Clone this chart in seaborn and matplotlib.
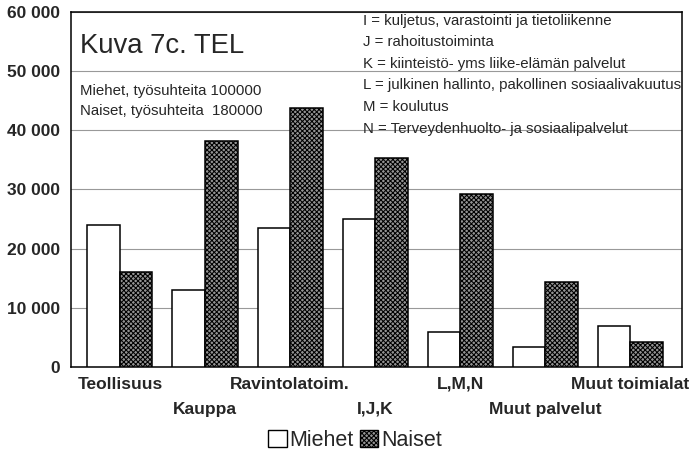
import pandas as pd
import seaborn as sns
import matplotlib.pyplot as plt
from matplotlib.patches import Patch

# data
toimialat = ['Teollisuus', 'Kauppa', 'Ravintolatoim.', 'I,J,K', 'L,M,N',
             'Muut palvelut', 'Muut toimialat']
miehet = [24000, 13000, 23500, 25000, 5900, 3300, 6900]
naiset = [16000, 38200, 43700, 35400, 29300, 14400, 4200]
y_ticks = [0, 10000, 20000, 30000, 40000, 50000, 60000]
selitteet = ['I = kuljetus, varastointi ja tietoliikenne',
             'J = rahoitustoiminta',
             'K = kiinteistö- yms liike-elämän palvelut',
             'L = julkinen hallinto, pakollinen sosiaalivakuutus',
             'M = koulutus',
             'N = Terveydenhuolto- ja sosiaalipalvelut']

df = pd.DataFrame({
    'Toimiala': toimialat * 2,
    'Sukupuoli': ['Miehet'] * len(toimialat) + ['Naiset'] * len(toimialat),
    'Lkm': miehet + naiset,
})

sns.set_style('white')
plt.rcParams['font.family'] = ['Liberation Sans', 'DejaVu Sans']
plt.rcParams['hatch.linewidth'] = 0.75

fig = plt.figure(figsize=(6.92, 4.54), dpi=100)
ax = fig.add_axes([71 / 692, 1 - 367 / 454, 611 / 692, 355 / 454])

sns.barplot(data=df, x='Toimiala', y='Lkm', hue='Sukupuoli',
            palette={'Miehet': 'white', 'Naiset': '#949494'},
            width=0.765, gap=0, edgecolor='black', linewidth=1.1,
            legend=False, ax=ax, zorder=3)
for bar in ax.containers[1]:
    bar.set_hatch('xxxxxxx')

ax.set_ylim(0, 60000)
ax.set_xlim(-0.576, len(toimialat) - 1 + 0.61)
ax.set_yticks(y_ticks)
ax.set_yticklabels([f'{v:,}'.replace(',', ' ') for v in y_ticks],
                   fontweight='bold', fontsize=12.5)
ax.set_yticks(range(5000, 60000, 10000), minor=True)
ax.tick_params(axis='y', which='both', direction='in', length=4, width=0.8, pad=8)
ax.yaxis.grid(True, color='#999999', linewidth=0.8, zorder=0)
ax.set_axisbelow(True)

# porrastetut luokkanimet: parilliset ylärivillä, parittomat alarivillä
ylä = list(range(0, len(toimialat), 2))
ala = list(range(1, len(toimialat), 2))
ax.set_xticks(ylä)
ax.set_xticklabels([toimialat[i] for i in ylä], fontweight='bold', fontsize=12.5)
ax.set_xticks(ala, minor=True)
ax.set_xticklabels([toimialat[i] for i in ala], minor=True,
                   fontweight='bold', fontsize=12.5)
ax.tick_params(axis='x', which='major', length=0, pad=7)
ax.tick_params(axis='x', which='minor', length=0, pad=25)
ax.set_xlabel('')
ax.set_ylabel('')
for s in ax.spines.values():
    s.set_visible(True)
    s.set_color('black')
    s.set_linewidth(1.1)

ax.text(0.014, 0.905, 'Kuva 7c. TEL', transform=ax.transAxes, fontsize=19.8,
        va='center', ha='left')
ax.text(0.014, 0.778, 'Miehet, työsuhteita 100000', transform=ax.transAxes,
        fontsize=10.8, va='center')
ax.text(0.014, 0.72, 'Naiset, työsuhteita  180000', transform=ax.transAxes,
        fontsize=10.8, va='center')

# lyhenteiden selitykset oikeassa yläkulmassa
for i, s in enumerate(selitteet):
    ax.text((363 - 71) / 611, 1 - (8.5 + 21.6 * i) / 355, s, transform=ax.transAxes,
            fontsize=10.8, va='center', ha='left', clip_on=True)

handles = [Patch(facecolor='white', edgecolor='black', linewidth=1, label='Miehet'),
           Patch(facecolor='#949494', edgecolor='black', linewidth=1, hatch='xxxxxxx',
                 label='Naiset')]
fig.legend(handles=handles, loc='center', bbox_to_anchor=(0.513, 0.03), ncol=2,
           frameon=False, fontsize=15.5, handlelength=0.85, handleheight=0.85,
           handletextpad=0.12, columnspacing=0.3, borderaxespad=0)

fig.savefig('out.png', dpi=100)
